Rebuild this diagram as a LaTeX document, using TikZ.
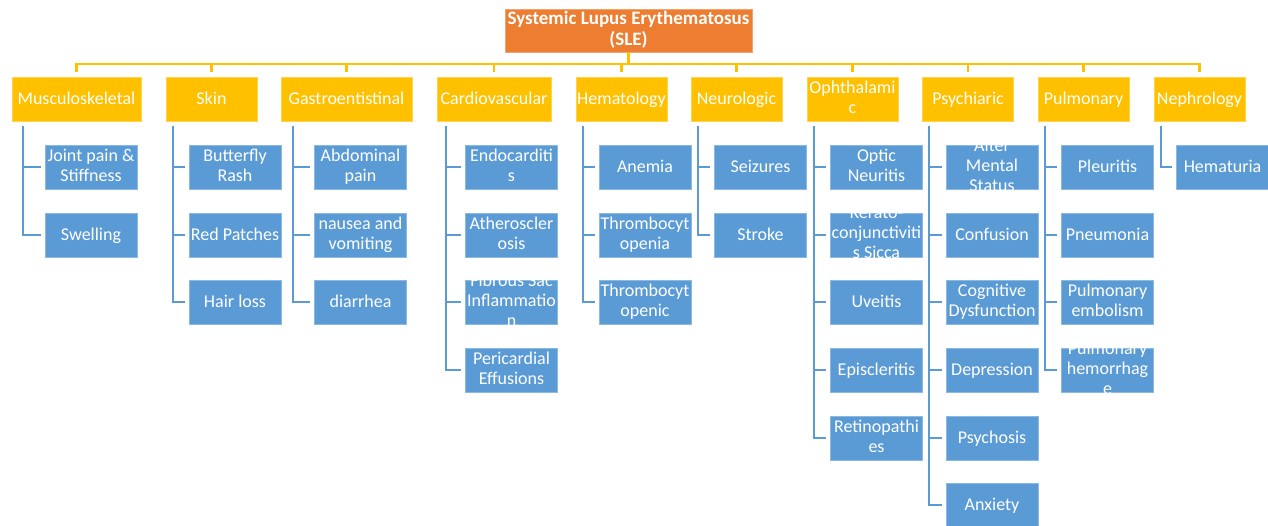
\documentclass[tikz,border=0pt]{standalone}
\usepackage{fontspec}
\setmainfont{Carlito}
\definecolor{sleorange}{HTML}{ED7D31}
\definecolor{sleyellow}{HTML}{FFC000}
\definecolor{sleblue}{HTML}{5B9BD5}
\newcommand{\boxstrut}{\rule[-4.2pt]{0pt}{20pt}}

\begin{document}
\begin{tikzpicture}[x=1pt, y=-1pt,
    box/.style={text=white, align=center, inner sep=0pt, font=\fontsize{18}{20}\selectfont,
        execute at begin node=\boxstrut, execute at end node=\boxstrut},
    root/.style={box, fill=sleorange, draw=sleorange!70!white, font=\fontsize{19}{21}\selectfont\bfseries, minimum width=247pt, minimum height=43pt,
        execute at begin node=\rule[-4.2pt]{0pt}{25pt}, inner ysep=-1.5pt},
    group/.style={box, fill=sleyellow, draw=sleyellow!70!white, minimum width=91pt, minimum height=44pt},
    item/.style={box, fill=sleblue, draw=sleblue!70!white, minimum width=92pt, minimum height=44pt},
    squeezed/.style={inner ysep=-8pt},
    trunk/.style={draw=sleyellow, line width=2.6pt},
    branch/.style={draw=sleblue, line width=2.6pt, shorten >=4pt}]
        \useasboundingbox (0,0) rectangle (1268,525);

        \node[root] (sle) at (628.5,30.5) {Systemic Lupus Erythematosus\\(SLE)};
        \coordinate (bus) at (628.5,64);

        % groups
        \node[group, minimum width=129pt] (musc) at (76.5,99) {Musculoskeletal};
        \node[group] (skin) at (211.5,99) {Skin};
        \node[group, minimum width=131pt] (gastro) at (346.5,99) {Gastroentistinal};
        \node[group, minimum width=114pt] (cardio) at (494,99) {Cardiovascular};
        \node[group] (hemato) at (621.5,99) {Hematology};
        \node[group] (neuro) at (736.5,99) {Neurologic};
        \node[group] (ophth) at (852.5,99) {Ophthalami\\c};
        \node[group] (psych) at (968,99) {Psychiaric};
        \node[group] (pulm) at (1083.5,99) {Pulmonary};
        \node[group] (nephro) at (1199.5,99) {Nephrology};

        \draw[trunk] (sle.south) -- (bus);
        \draw[trunk, shorten >=5pt] (bus) -| (musc.north);
        \draw[trunk, shorten >=5pt] (bus) -| (skin.north);
        \draw[trunk, shorten >=5pt] (bus) -| (gastro.north);
        \draw[trunk, shorten >=5pt] (bus) -| (cardio.north);
        \draw[trunk, shorten >=5pt] (bus) -| (hemato.north);
        \draw[trunk, shorten >=5pt] (bus) -| (neuro.north);
        \draw[trunk, shorten >=5pt] (bus) -| (ophth.north);
        \draw[trunk, shorten >=5pt] (bus) -| (psych.north);
        \draw[trunk, shorten >=5pt] (bus) -| (pulm.north);
        \draw[trunk, shorten >=5pt] (bus) -| (nephro.north);

        % musculoskeletal
        \node[item] (musc1) at (91,167) {Joint pain \&\\Stiffness};
        \node[item] (musc2) at (91,235) {Swelling};
        \coordinate (musc-t) at (23,126);
        \draw[branch] (musc-t) |- (musc1.west);
        \draw[branch] (musc-t) |- (musc2.west);

        % skin
        \node[item] (skin1) at (235,167) {Butterfly\\Rash};
        \node[item] (skin2) at (235,235) {Red Patches};
        \node[item] (skin3) at (235,302) {Hair loss};
        \coordinate (skin-t) at (173,126);
        \draw[branch] (skin-t) |- (skin1.west);
        \draw[branch] (skin-t) |- (skin2.west);
        \draw[branch] (skin-t) |- (skin3.west);

        % gastro
        \node[item] (gastro1) at (360.5,167) {Abdominal\\pain};
        \node[item] (gastro2) at (360.5,235) {nausea and\\vomiting};
        \node[item] (gastro3) at (360.5,302) {diarrhea};
        \coordinate (gastro-t) at (293,126);
        \draw[branch] (gastro-t) |- (gastro1.west);
        \draw[branch] (gastro-t) |- (gastro2.west);
        \draw[branch] (gastro-t) |- (gastro3.west);

        % cardio
        \node[item] (cardio1) at (511.5,167) {Endocarditi\\s};
        \node[item] (cardio2) at (511.5,235) {Atheroscler\\osis};
        \node[item, squeezed] (cardio3) at (511.5,302) {Fibrous Sac\\Inflammatio\\n};
        \node[item] (cardio4) at (511.5,370) {Pericardial\\Effusions};
        \coordinate (cardio-t) at (446,126);
        \draw[branch] (cardio-t) |- (cardio1.west);
        \draw[branch] (cardio-t) |- (cardio2.west);
        \draw[branch] (cardio-t) |- (cardio3.west);
        \draw[branch] (cardio-t) |- (cardio4.west);

        % hematology
        \node[item] (hemato1) at (645,167) {Anemia};
        \node[item] (hemato2) at (645,235) {Thrombocyt\\openia};
        \node[item] (hemato3) at (645,302) {Thrombocyt\\openic};
        \coordinate (hemato-t) at (583,126);
        \draw[branch] (hemato-t) |- (hemato1.west);
        \draw[branch] (hemato-t) |- (hemato2.west);
        \draw[branch] (hemato-t) |- (hemato3.west);

        % neurologic
        \node[item] (neuro1) at (760.5,167) {Seizures};
        \node[item] (neuro2) at (760.5,235) {Stroke};
        \coordinate (neuro-t) at (698,126);
        \draw[branch] (neuro-t) |- (neuro1.west);
        \draw[branch] (neuro-t) |- (neuro2.west);

        % ophthalamic
        \node[item] (ophth1) at (876.5,167) {Optic\\Neuritis};
        \node[item, squeezed] (ophth2) at (876.5,235) {Kerato-\\conjunctiviti\\s Sicca};
        \node[item] (ophth3) at (876.5,302) {Uveitis};
        \node[item] (ophth4) at (876.5,370) {Episcleritis};
        \node[item] (ophth5) at (876.5,438) {Retinopathi\\es};
        \coordinate (ophth-t) at (814,126);
        \draw[branch] (ophth-t) |- (ophth1.west);
        \draw[branch] (ophth-t) |- (ophth2.west);
        \draw[branch] (ophth-t) |- (ophth3.west);
        \draw[branch] (ophth-t) |- (ophth4.west);
        \draw[branch] (ophth-t) |- (ophth5.west);

        % psychiaric
        \node[item, squeezed] (psych1) at (992,167) {Alter\\Mental\\Status};
        \node[item] (psych2) at (992,235) {Confusion};
        \node[item] (psych3) at (992,302) {Cognitive\\Dysfunction};
        \node[item] (psych4) at (992,370) {Depression};
        \node[item] (psych5) at (992,438) {Psychosis};
        \node[item] (psych6) at (992,505) {Anxiety};
        \coordinate (psych-t) at (929,126);
        \draw[branch] (psych-t) |- (psych1.west);
        \draw[branch] (psych-t) |- (psych2.west);
        \draw[branch] (psych-t) |- (psych3.west);
        \draw[branch] (psych-t) |- (psych4.west);
        \draw[branch] (psych-t) |- (psych5.west);
        \draw[branch] (psych-t) |- (psych6.west);

        % pulmonary
        \node[item] (pulm1) at (1107.5,167) {Pleuritis};
        \node[item] (pulm2) at (1107.5,235) {Pneumonia};
        \node[item] (pulm3) at (1107.5,302) {Pulmonary\\embolism};
        \node[item, squeezed] (pulm4) at (1107.5,370) {Pulmonary\\hemorrhag\\e};
        \coordinate (pulm-t) at (1045,126);
        \draw[branch] (pulm-t) |- (pulm1.west);
        \draw[branch] (pulm-t) |- (pulm2.west);
        \draw[branch] (pulm-t) |- (pulm3.west);
        \draw[branch] (pulm-t) |- (pulm4.west);

        % nephrology
        \node[item] (nephro1) at (1222.5,167) {Hematuria};
        \coordinate (nephro-t) at (1161,126);
        \draw[branch] (nephro-t) |- (nephro1.west);

    \end{tikzpicture}
\end{document}
